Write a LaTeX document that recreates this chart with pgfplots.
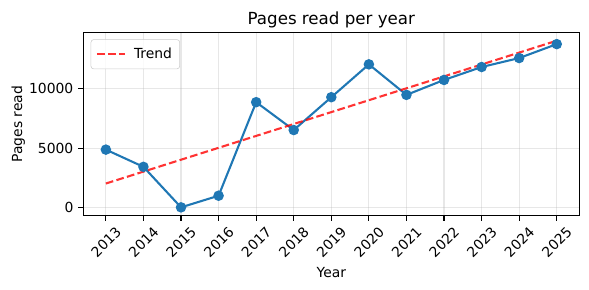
\documentclass[border=0pt]{standalone}
\usepackage{fontspec}
\setmainfont{DejaVu Sans}
\usepackage{pgfplots}
\pgfplotsset{compat=1.18}
\definecolor{mplblue}{HTML}{1F77B4}
\definecolor{gridgray}{HTML}{B0B0B0}
\definecolor{legedge}{HTML}{CCCCCC}
\begin{document}
\begin{tikzpicture}
\useasboundingbox (0,0) rectangle (424.08pt,208.8pt);
\begin{axis}[
  at={(60pt,53.5pt)}, anchor=south west,
  scale only axis, width=357.1pt, height=132pt,
  xmin=2012.4, xmax=2025.6, ymin=-704, ymax=14775,
  xtick={2013,2014,2015,2016,2017,2018,2019,2020,2021,2022,2023,2024,2025},
  ytick={0,5000,10000},
  scaled y ticks=false,
  /pgf/number format/1000 sep={},
  /pgf/number format/assume math mode=true,
  tick align=outside, major tick length=3.5pt,
  tick style={black, line width=0.8pt},
  axis line style={line width=0.8pt},
  xtick pos=bottom, ytick pos=left,
  grid=major, grid style={gridgray, opacity=0.3, line width=0.8pt},
  tick label style={font=\fontsize{10}{12}\selectfont},
  label style={font=\fontsize{10}{12}\selectfont},
  every axis title/.style={at={(0.5,1.0453)}, anchor=base, inner sep=0pt, font=\fontsize{12}{14}\selectfont},
  title={Pages read per year},
  xlabel={Year}, ylabel={Pages read},
  xlabel style={at={(axis description cs:0.5,-0.3359)}, anchor=base},
  ylabel style={at={(axis description cs:-0.1236,0.5)}, anchor=base},
  xticklabel style={xshift=6.4pt, yshift=-3.5pt, rotate=45, anchor=north east, inner sep=0pt},
  yticklabel style={inner sep=0pt, xshift=-3.5pt},
  legend style={at={(0,1)}, anchor=north west, xshift=5.3pt, yshift=-5pt,
    draw=legedge, rounded corners=2pt, fill=white, fill opacity=0.8, text opacity=1,
    draw opacity=1, font=\fontsize{10}{12}\selectfont, inner xsep=3.5pt, inner ysep=4pt},
  legend image code/.code={\draw[#1] plot coordinates {(0pt,0pt) (20pt,0pt)}; \path (24pt,0pt);},
  legend cell align=left,
]
\addplot[mplblue, line width=1.5pt, mark=*, mark size=3pt, mark options={solid, fill=mplblue, draw=mplblue}, forget plot] coordinates {
(2013,4874) (2014,3420) (2015,0) (2016,983) (2017,8880) (2018,6527) (2019,9300)
(2020,12073) (2021,9496) (2022,10756) (2023,11849) (2024,12605) (2025,13782)
};
\addplot[red, opacity=0.8, line width=1.5pt, dash pattern=on 5.55pt off 2.4pt] coordinates {
(2013,2013) (2025,14071)
};
\addlegendentry{Trend}
\end{axis}
\end{tikzpicture}
\end{document}
